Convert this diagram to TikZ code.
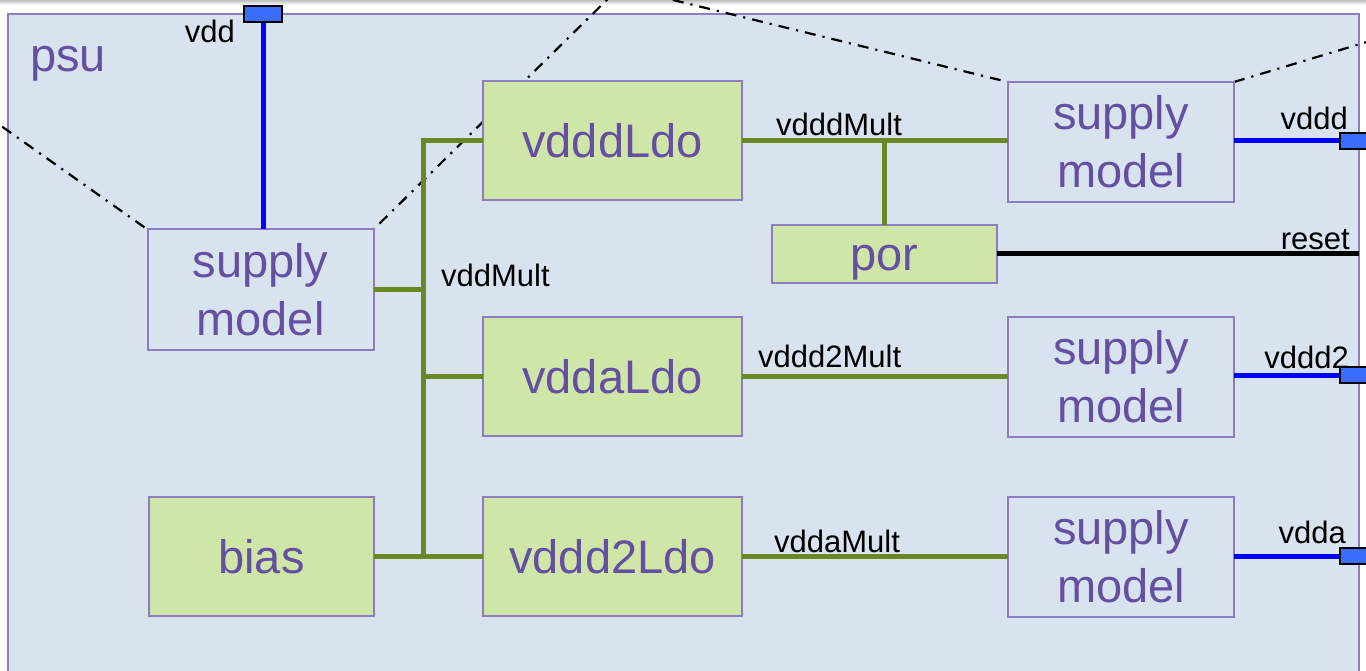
\documentclass[tikz,border=0pt]{standalone}
\usepackage{fontspec}
\setmainfont{Liberation Sans}
\usetikzlibrary{backgrounds}
\definecolor{psubg}{RGB}{217,227,240}
\definecolor{psuedge}{RGB}{140,125,192}
\definecolor{ldofill}{RGB}{208,229,168}
\definecolor{ldotext}{RGB}{99,80,160}
\definecolor{busgreen}{RGB}{104,136,36}
\definecolor{portblue}{RGB}{58,110,250}
\begin{document}
\begin{tikzpicture}[x=1pt, y=-1pt,
    block/.style={draw=psuedge, line width=2pt, text=ldotext, inner sep=0pt,
                  outer sep=0pt, align=center, font=\fontsize{47}{58}\selectfont},
    model/.style={block, minimum width=226pt, minimum height=120pt},
    ldo/.style={block, fill=ldofill, minimum width=259pt, minimum height=119pt,
                text height=34pt, text depth=0pt},
    port/.style={draw=black, line width=1.5pt, fill=portblue, minimum width=38pt,
                 minimum height=16pt, inner sep=0pt, outer sep=0pt},
    bus/.style={busgreen, line width=5pt},
    rail/.style={blue, line width=5pt},
    sig/.style={black, line width=5pt},
    lbl/.style={inner sep=0pt, font=\fontsize{31}{36}\selectfont},
    zoomline/.style={line width=2.2pt, dash pattern=on 11pt off 7pt on 2.2pt off 7pt}]
      \useasboundingbox (0, 0) rectangle (1366, 671);
      \clip (0, 0) rectangle (1366, 671);
      \node[anchor=base west, inner sep=0pt, text=ldotext,
            font=\fontsize{47}{58}\selectfont] (psu) at (30, 72) {psu};
      \node[model] (supL) at (260.5, 289.5) {supply\\model};
      \node[ldo, minimum width=225pt] (bias) at (261.5, 556) {bias};
      \node[ldo] (vdddLdo) at (612.5, 141) {vdddLdo};
      \node[ldo] (vddaLdo) at (612.5, 376) {vddaLdo};
      \node[ldo] (vddd2Ldo) at (612.5, 556) {vddd2Ldo};
      \node[ldo, minimum width=225pt, minimum height=58pt] (por) at (884.5, 254) {por};
      \node[model] (supA) at (1121, 142) {supply\\model};
      \node[model] (supB) at (1121, 377) {supply\\model};
      \node[model] (supC) at (1121, 557) {supply\\model};
      \coordinate (rim) at (1359, 0);
      \coordinate (jTop) at (423, 141);
      \coordinate (jBot) at (423, 556);
      \coordinate (apex) at (620, -13);
      \coordinate (farL) at (-20, 111);
      \coordinate (farR) at (1400, 32);
      \begin{pgfonlayer}{background}
        \shade[top color=black!25, bottom color=white] (0, 0) rectangle (1366, 5);
        \draw[psuedge, fill=psubg, line width=2pt] (8, 14) rectangle (1359, 700);
        \draw[zoomline] (farL) -- (supL.north west)
                        (apex) -- (supL.north east)
                        (apex) -- (supA.north west)
                        (supA.north east) -- (farR);
      \end{pgfonlayer}
      \draw[bus] (vdddLdo.west) -- (jTop) -- (jBot);
      \draw[bus] (supL.east) -- (supL.east -| jTop)
                 (vddaLdo.west) -- (vddaLdo.west -| jTop)
                 (bias.east) -- (vddd2Ldo.west);
      \draw[bus] (vdddLdo.east) -- (vdddLdo.east -| supA.west)
                 (vddaLdo.east) -- (vddaLdo.east -| supB.west)
                 (vddd2Ldo.east) -- (vddd2Ldo.east -| supC.west)
                 (por.north) -- (por.north |- vdddLdo.east);
      \draw[sig] (por.east) -- (por.east -| rim);
      \node[port] (pVdd) at (263, 14) {};
      \node[port] (pVddd) at (1359, 141) {};
      \node[port] (pVddd2) at (1359, 375) {};
      \node[port] (pVdda) at (1359, 556) {};
      \draw[rail] (pVdd.south) -- (pVdd.south |- supL.north)
                  (supA.east |- pVddd) -- (pVddd.west)
                  (supB.east |- pVddd2) -- (pVddd2.west)
                  (supC.east |- pVdda) -- (pVdda.west);
      \node[port] at (pVdd) {};
      \node[port] at (pVddd) {};
      \node[port] at (pVddd2) {};
      \node[port] at (pVdda) {};
      \node[lbl, anchor=base east] (vdd) at (235, 43) {vdd};
      \node[lbl, anchor=base west] (vddMult) at (441, 287) {vddMult};
      \node[lbl, anchor=base west] (vdddMult) at (776, 136) {vdddMult};
      \node[lbl, anchor=base west] (vddd2Mult) at (758, 367) {vddd2Mult};
      \node[lbl, anchor=base west] (vddaMult) at (774, 552) {vddaMult};
      \node[lbl, anchor=base east] (vddd) at (1348, 130) {vddd};
      \node[lbl, anchor=base east] (reset) at (1350, 250) {reset};
      \node[lbl, anchor=base east] (vddd2) at (1349, 368) {vddd2};
      \node[lbl, anchor=base east] (vdda) at (1346, 543) {vdda};
\end{tikzpicture}
\end{document}
